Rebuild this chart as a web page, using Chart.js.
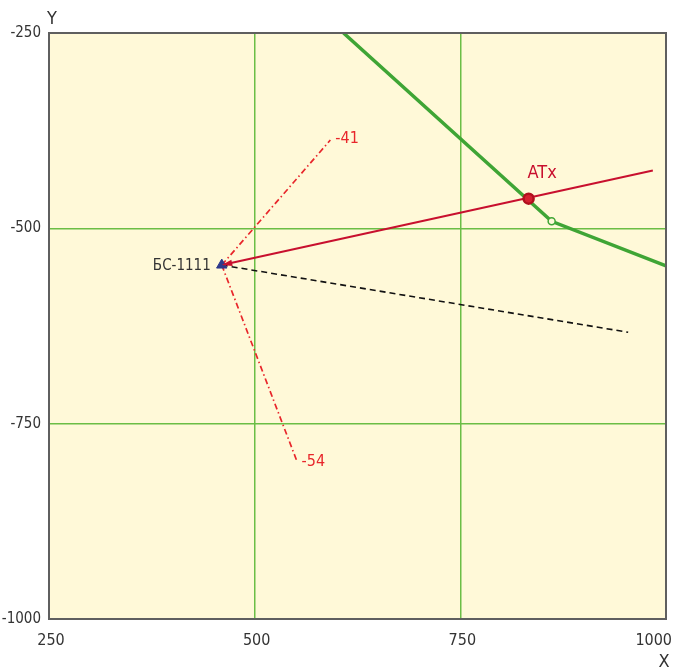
<!DOCTYPE html>
<html><head><meta charset="utf-8">
<script src="https://cdn.jsdelivr.net/npm/chart.js@4"></script>
<style>html,body{margin:0;padding:0;background:#fff}#wrap{width:675px;height:670px}</style>
</head><body><div id="wrap"><canvas id="c" width="675" height="670"></canvas></div>
<script>
const xTicks = [250, 500, 750, 1000];
const yTicks = [-250, -500, -750, -1000];
const station = [{x: 460, y: -547}];
const stationLabel = 'БС-1111';
const sector41 = [{x: 460, y: -547}, {x: 592, y: -387}];
const sector41Label = '-41';
const sector54 = [{x: 460, y: -547}, {x: 551, y: -797}];
const sector54Label = '-54';
const azimuthLine = [{x: 460, y: -547}, {x: 984, y: -426}];
const dashedLine = [{x: 460, y: -547}, {x: 954, y: -633}];
const roadLine = [{x: 608, y: -250}, {x: 861, y: -491}, {x: 1000, y: -548}];
const roadPoint = [{x: 861, y: -491}];
const atxPoint = [{x: 833, y: -462}];
const atxLabel = 'ATx';

const FONT = '"Liberation Sans Narrow","DejaVu Sans Condensed","Liberation Sans",sans-serif';

const bgPlugin = {
  id: 'bg',
  beforeDraw(chart) {
    const {ctx, chartArea: a} = chart;
    ctx.save();
    ctx.fillStyle = '#FFF9D8';
    ctx.fillRect(a.left, a.top, a.right - a.left, a.bottom - a.top);
    ctx.restore();
  },
  afterDraw(chart) {
    const {ctx, chartArea: a, scales} = chart;
    const xs = scales.x, ys = scales.y;
    ctx.save();
    ctx.strokeStyle = '#5f5f5f';
    ctx.lineWidth = 2;
    ctx.strokeRect(a.left, a.top, a.right - a.left, a.bottom - a.top);
    const p0 = {x: xs.getPixelForValue(azimuthLine[0].x), y: ys.getPixelForValue(azimuthLine[0].y)};
    const p1 = {x: xs.getPixelForValue(azimuthLine[1].x), y: ys.getPixelForValue(azimuthLine[1].y)};
    const ang = Math.atan2(p0.y - p1.y, p0.x - p1.x);
    ctx.fillStyle = '#C8102E';
    ctx.beginPath();
    ctx.moveTo(p0.x, p0.y);
    ctx.lineTo(p0.x - 11 * Math.cos(ang - 0.3), p0.y - 11 * Math.sin(ang - 0.3));
    ctx.lineTo(p0.x - 11 * Math.cos(ang + 0.3), p0.y - 11 * Math.sin(ang + 0.3));
    ctx.closePath();
    ctx.fill();
    ctx.font = '15px ' + FONT;
    ctx.textBaseline = 'middle';
    ctx.fillStyle = '#333333';
    ctx.textAlign = 'right';
    ctx.fillText(stationLabel, xs.getPixelForValue(station[0].x) - 11, ys.getPixelForValue(station[0].y) + 1);
    ctx.font = '16px ' + FONT;
    ctx.textAlign = 'left';
    ctx.fillStyle = '#E8262B';
    ctx.fillText(sector41Label, xs.getPixelForValue(sector41[1].x) + 5, ys.getPixelForValue(sector41[1].y) - 1);
    ctx.fillText(sector54Label, xs.getPixelForValue(sector54[1].x) + 5, ys.getPixelForValue(sector54[1].y) + 1);
    ctx.fillStyle = '#C8102E';
    ctx.font = '18px ' + FONT;
    ctx.fillText(atxLabel, xs.getPixelForValue(atxPoint[0].x) - 1, ys.getPixelForValue(atxPoint[0].y) - 25);
    ctx.fillStyle = '#333333';
    ctx.font = '16px ' + FONT;
    xTicks.forEach((v, i) => {
      const px = xs.getPixelForValue(v);
      if (i === xTicks.length - 1) { ctx.textAlign = 'right'; ctx.fillText(String(v), px + 6, 641); }
      else { ctx.textAlign = 'center'; ctx.fillText(String(v), px + 2, 641); }
    });
    ctx.font = '18px ' + FONT;
    ctx.textAlign = 'center';
    ctx.fillText('Y', a.left + 3, 19);
    ctx.fillText('X', a.right - 2, 662);
    ctx.restore();
  }
};

new Chart(document.getElementById('c'), {
  type: 'scatter',
  data: {
    datasets: [
      {data: roadLine, showLine: true, borderColor: '#3FA535', borderWidth: 3.5, pointRadius: 0, order: 5},
      {data: roadPoint, borderColor: '#3FA535', backgroundColor: '#FFF9D8', borderWidth: 1.5, pointRadius: 3.5, order: 4},
      {data: dashedLine, showLine: true, borderColor: '#111111', borderWidth: 1.6, borderDash: [6, 4], pointRadius: 0, order: 6},
      {data: sector41, showLine: true, borderColor: '#E8262B', borderWidth: 1.7, borderDash: [6, 3, 1.5, 3], pointRadius: 0, order: 6},
      {data: sector54, showLine: true, borderColor: '#E8262B', borderWidth: 1.7, borderDash: [6, 3, 1.5, 3], pointRadius: 0, order: 6},
      {data: azimuthLine, showLine: true, borderColor: '#C8102E', borderWidth: 2, pointRadius: 0, order: 3},
      {data: atxPoint, borderColor: '#B0101E', backgroundColor: '#D42030', borderWidth: 2.5, pointRadius: 5, order: 2},
      {data: station, pointStyle: 'triangle', backgroundColor: '#2E3A8C', borderColor: '#2E3A8C', pointRadius: 6, order: 1}
    ]
  },
  options: {
    responsive: false,
    animation: false,
    events: [],
    layout: {padding: {top: 33, right: 9, left: 0, bottom: 0}},
    plugins: {legend: {display: false}, tooltip: {enabled: false}},
    scales: {
      x: {
        type: 'linear', min: 250, max: 1000,
        afterBuildTicks(s) { s.ticks = xTicks.map(v => ({value: v})); },
        afterFit(s) { s.height = 51; s.paddingLeft = 0; s.paddingRight = 0; },
        grid: {color: ctx => (ctx.tick && (ctx.tick.value === 250 || ctx.tick.value === 1000)) ? 'rgba(0,0,0,0)' : '#6BBE45', lineWidth: 1.5, drawTicks: false},
        border: {display: false},
        ticks: {display: false}
      },
      y: {
        type: 'linear', min: -1000, max: -250,
        afterBuildTicks(s) { s.ticks = yTicks.map(v => ({value: v})); },
        afterFit(s) { s.width = 49; s.paddingTop = 0; s.paddingBottom = 0; },
        grid: {color: ctx => (ctx.tick && (ctx.tick.value === -250 || ctx.tick.value === -1000)) ? 'rgba(0,0,0,0)' : '#6BBE45', lineWidth: 1.5, drawTicks: false},
        border: {display: false},
        ticks: {color: '#333333', font: {family: FONT, size: 15}, padding: 8, callback: v => String(v)}
      }
    }
  },
  plugins: [bgPlugin]
});
</script>
</body></html>
